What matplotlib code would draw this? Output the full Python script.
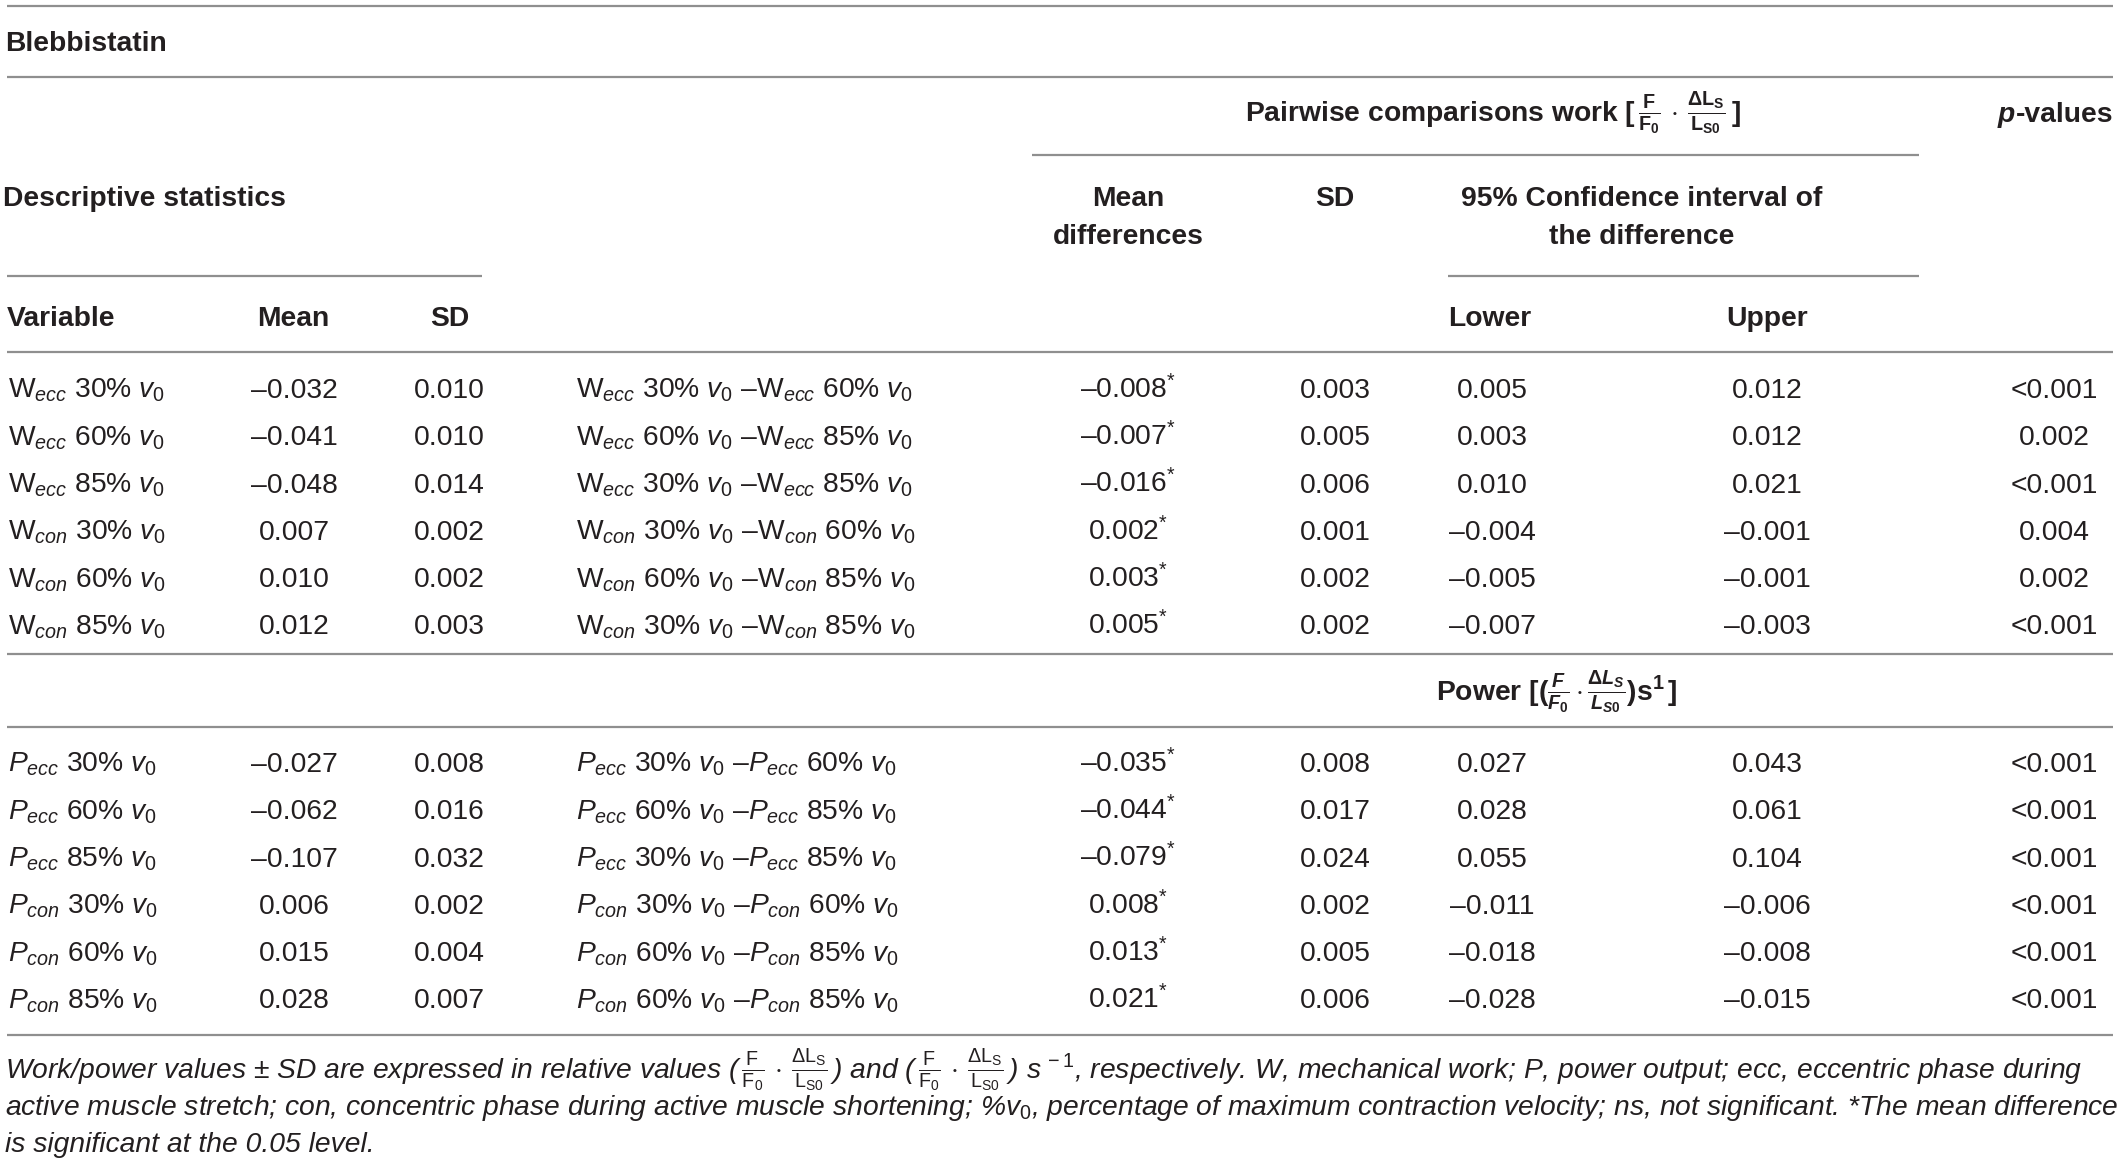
import matplotlib
matplotlib.use("Agg")
import matplotlib.pyplot as plt

plt.rcParams['font.family'] = ['Liberation Sans', 'DejaVu Sans']
plt.rcParams['mathtext.fontset'] = 'custom'
plt.rcParams['mathtext.rm'] = 'Liberation Sans'
plt.rcParams['mathtext.it'] = 'Liberation Sans:italic'
plt.rcParams['mathtext.bf'] = 'Liberation Sans:bold'
try:
    plt.rcParams['mathtext.bfit'] = 'Liberation Sans:italic:bold'
    BFIT = True
except KeyError:
    BFIT = False

# ---------------- data ----------------
work_phase = ['ecc', 'ecc', 'ecc', 'con', 'con', 'con']
work_pct = [30, 60, 85, 30, 60, 85]
work_mean = [-0.032, -0.041, -0.048, 0.007, 0.010, 0.012]
work_sd = [0.010, 0.010, 0.014, 0.002, 0.002, 0.003]
work_pairs = [('ecc', 30, 60), ('ecc', 60, 85), ('ecc', 30, 85),
              ('con', 30, 60), ('con', 60, 85), ('con', 30, 85)]
work_diff = [-0.008, -0.007, -0.016, 0.002, 0.003, 0.005]
work_diff_sd = [0.003, 0.005, 0.006, 0.001, 0.002, 0.002]
work_lower = [0.005, 0.003, 0.010, -0.004, -0.005, -0.007]
work_upper = [0.012, 0.012, 0.021, -0.001, -0.001, -0.003]
work_p = ['<0.001', '0.002', '<0.001', '0.004', '0.002', '<0.001']

power_phase = ['ecc', 'ecc', 'ecc', 'con', 'con', 'con']
power_pct = [30, 60, 85, 30, 60, 85]
power_mean = [-0.027, -0.062, -0.107, 0.006, 0.015, 0.028]
power_sd = [0.008, 0.016, 0.032, 0.002, 0.004, 0.007]
power_pairs = [('ecc', 30, 60), ('ecc', 60, 85), ('ecc', 30, 85),
               ('con', 30, 60), ('con', 60, 85), ('con', 60, 85)]
power_diff = [-0.035, -0.044, -0.079, 0.008, 0.013, 0.021]
power_diff_sd = [0.008, 0.017, 0.024, 0.002, 0.005, 0.006]
power_lower = [0.027, 0.028, 0.055, -0.011, -0.018, -0.028]
power_upper = [0.043, 0.061, 0.104, -0.006, -0.008, -0.015]
power_p = ['<0.001', '<0.001', '<0.001', '<0.001', '<0.001', '<0.001']

# ---------------- figure ----------------
W, H = 2119, 1168
fig = plt.figure(figsize=(W / 100, H / 100), dpi=100)
ax = fig.add_axes([0, 0, 1, 1])
ax.set_xlim(0, W)
ax.set_ylim(H, 0)
ax.axis('off')

TXT = '#231f20'
LINE = '#8f8f8f'
FS = 20.3
FS_NOTE = 20.3


def fmt(v):
    return f'{v:.3f}'.replace('-', '\u2013')


def hline(y, x0=7, x1=2113):
    ax.plot([x0, x1], [y, y], color=LINE, lw=1.6, solid_capstyle='butt')


def t(x, y, s, ha='left', bold=False, fs=FS, style='normal', color=TXT):
    return ax.text(x, y, s, ha=ha, va='baseline', fontsize=fs,
                   fontweight='bold' if bold else 'normal',
                   fontstyle=style, color=color)


# rules
for y in [6, 77, 352, 654, 727, 1035]:
    hline(y)
hline(155, 1032, 1919)
hline(276, 7, 482)
hline(276, 1448, 1919)

# headers
t(5, 51, 'Blebbistatin', bold=True)
t(1493, 122, r'Pairwise comparisons work [$\,\frac{\mathbf{F}}{\mathbf{F_0}}\,\cdot\,'
             r'\frac{\mathbf{\Delta L_S}}{\mathbf{L_{S0}}}\,$]',
  ha='center', bold=True)
pv = t(2113, 122, '-values', ha='right', bold=True)
fig.canvas.draw()
bb = pv.get_window_extent(renderer=fig.canvas.get_renderer())
ax.text(bb.x0 - 1, 122, 'p', ha='right', va='baseline', fontsize=FS,
        fontweight='bold', fontstyle='italic', color=TXT)

t(3, 206, 'Descriptive statistics', bold=True)
t(1128, 206, 'Mean', ha='center', bold=True)
t(1128, 244, 'differences', ha='center', bold=True)
t(1335, 206, 'SD', ha='center', bold=True)
t(1642, 206, '95% Confidence interval of', ha='center', bold=True)
t(1642, 244, 'the difference', ha='center', bold=True)
t(7, 326, 'Variable', bold=True)
t(293, 326, 'Mean', ha='center', bold=True)
t(450, 326, 'SD', ha='center', bold=True)
t(1448, 326, 'Lower', bold=True)
t(1767, 326, 'Upper', ha='center', bold=True)

if BFIT:
    power_hdr = (r'Power [$\mathbf{(}\frac{\mathbfit{F}}{\mathbfit{F}_{\mathbf{0}}}\,\mathbf{\cdot}\,'
                 r'\frac{\mathbf{\Delta}\mathbfit{L}_{\mathbfit{S}}}{\mathbfit{L}_{\mathbfit{S}\mathbf{0}}}'
                 r'\mathbf{)}\mathbf{s}^{\mathbf{1}}\,$]')
else:
    power_hdr = (r'Power [$\mathbf{(}\frac{F}{F_0}\,\cdot\,\frac{\Delta L_S}{L_{S0}}\mathbf{)s}^{\mathbf{1}}\,$]')
t(1436, 701, power_hdr, bold=True)


def label(kind, phase, pct):
    if kind == 'W':
        return r'$\mathrm{W}_{%s}$ %d%% $v_0$' % (phase, pct)
    return r'$P_{%s}$ %d%% $v_0$' % (phase, pct)


def comp(kind, phase, a, b):
    if kind == 'W':
        return (r'$\mathrm{W}_{%s}$ %d%% $v_0$ ' % (phase, a) + '\u2013' +
                r'$\mathrm{W}_{%s}$ %d%% $v_0$' % (phase, b))
    return (r'$P_{%s}$ %d%% $v_0$ ' % (phase, a) + '\u2013' +
            r'$P_{%s}$ %d%% $v_0$' % (phase, b))


def block(kind, base0, phase, pct, mean, sd, pairs, diff, dsd, lo, up, pvals):
    for i in range(len(mean)):
        y = base0 + i * 47.3
        t(8, y, label(kind, phase[i], pct[i]))
        t(294, y, fmt(mean[i]), ha='center')
        t(449, y, fmt(sd[i]), ha='center')
        pr = pairs[i]
        t(576, y, comp(kind, pr[0], pr[1], pr[2]))
        t(1128, y, fmt(diff[i]) + r'$^{*}$', ha='center')
        t(1335, y, fmt(dsd[i]), ha='center')
        t(1492, y, fmt(lo[i]), ha='center')
        t(1767, y, fmt(up[i]), ha='center')
        t(2054, y, pvals[i], ha='center')


block('W', 398, work_phase, work_pct, work_mean, work_sd, work_pairs,
      work_diff, work_diff_sd, work_lower, work_upper, work_p)
block('P', 772, power_phase, power_pct, power_mean, power_sd, power_pairs,
      power_diff, power_diff_sd, power_lower, power_upper, power_p)

# footnote
frac = (r'$\,\frac{\mathrm{F}}{\mathrm{F_0}}\,\cdot\,'
        r'\frac{\mathrm{\Delta L_S}}{\mathrm{L_{S0}}}\,$')
note1 = ('Work/power values \u00b1 SD are expressed in relative values (' + frac +
         ') and (' + frac + r') $s^{\,-1}$, respectively. W, mechanical work; P, power output; '
         'ecc, eccentric phase during')
note2 = ('active muscle stretch; con, concentric phase during active muscle shortening; '
         r'%$v_0$, percentage of maximum contraction velocity; ns, not significant. '
         '*The mean difference')
note3 = 'is significant at the 0.05 level.'
t(5, 1079, note1, fs=FS_NOTE, style='italic')
t(5, 1115, note2, fs=FS_NOTE, style='italic')
t(5, 1152, note3, fs=FS_NOTE, style='italic')

fig.savefig('out.png', dpi=100, facecolor='white')
